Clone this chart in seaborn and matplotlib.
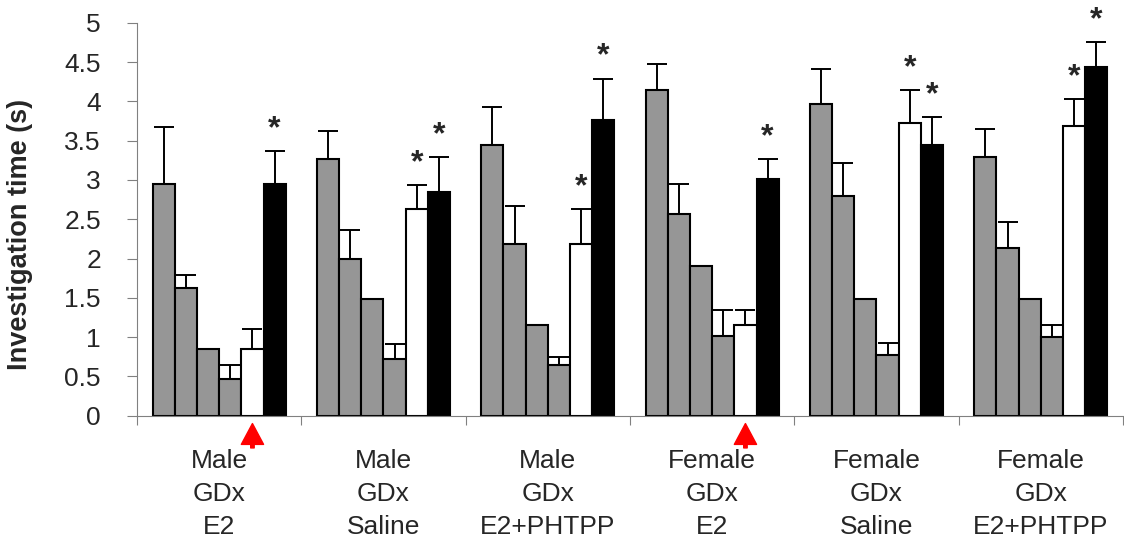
import pandas as pd
import matplotlib.pyplot as plt
import seaborn as sns

sns.set_style("white")
plt.rcParams['font.family'] = ['Liberation Sans', 'DejaVu Sans']

# Group labels and the six bars of each group
groups = ['Male\nGDx\nE2', 'Male\nGDx\nSaline', 'Male\nGDx\nE2+PHTPP',
          'Female\nGDx\nE2', 'Female\nGDx\nSaline', 'Female\nGDx\nE2+PHTPP']
conditions = ['hab1', 'hab2', 'hab3', 'hab4', 'dishab', 'novel']

# mean values per group (rows) and condition (columns)
means = [
    [2.95, 1.62, 0.85, 0.47, 0.85, 2.95],
    [3.26, 2.00, 1.49, 0.72, 2.63, 2.84],
    [3.44, 2.18, 1.16, 0.64, 2.18, 3.76],
    [4.14, 2.57, 1.90, 1.02, 1.16, 3.01],
    [3.96, 2.80, 1.49, 0.77, 3.73, 3.44],
    [3.29, 2.13, 1.49, 1.00, 3.69, 4.44],
]
# top of the error bars (mean + sem)
err_top = [
    [3.67, 1.79, 0.85, 0.64, 1.10, 3.37],
    [3.62, 2.36, 1.49, 0.91, 2.93, 3.29],
    [3.93, 2.67, 1.16, 0.75, 2.63, 4.29],
    [4.48, 2.95, 1.90, 1.34, 1.34, 3.26],
    [4.41, 3.21, 1.49, 0.93, 4.14, 3.80],
    [3.65, 2.47, 1.49, 1.16, 4.03, 4.75],
]
# significance stars (group index, condition index)
stars = [(0, 5), (1, 4), (1, 5), (2, 4), (2, 5), (3, 5), (4, 4), (4, 5), (5, 4), (5, 5)]
# red arrows under these groups (at the white bar)
arrow_groups = [0, 3]

rows = []
for gi, g in enumerate(groups):
    for ci, c in enumerate(conditions):
        rows.append({'group': g, 'condition': c, 'time': means[gi][ci]})
df = pd.DataFrame(rows)

palette = ['#969696'] * 4 + ['white', 'black']

fig = plt.figure(figsize=(11.24, 5.39), dpi=100)
ax = fig.add_axes([137 / 1124, 123.3 / 539, 986 / 1124, 393 / 539])

sns.barplot(data=df, x='group', y='time', hue='condition', order=groups,
            hue_order=conditions, palette=palette, saturation=1,
            edgecolor='black', linewidth=1.5, width=0.81, errorbar=None,
            legend=False, ax=ax)
bar_sets = list(ax.containers)

# upper-only error bars, using the bar positions seaborn produced
for ci, cont in enumerate(bar_sets):
    for gi, bar in enumerate(cont.patches):
        x = bar.get_x() + bar.get_width() / 2
        m = means[gi][ci]
        up = err_top[gi][ci] - m
        if up > 0.001:
            ax.errorbar(x, m, yerr=[[0], [up]], fmt='none', ecolor='black',
                        elinewidth=1.4, capsize=7, capthick=1.4, zorder=1)

for gi, ci in stars:
    bar = bar_sets[ci].patches[gi]
    x = bar.get_x() + bar.get_width() / 2
    ax.annotate('*', xy=(x, err_top[gi][ci]), xytext=(0, 10),
                textcoords='offset points', ha='center', va='baseline',
                fontsize=23, fontweight='bold')

for gi in arrow_groups:
    bar = bar_sets[4].patches[gi]
    x = bar.get_x() + bar.get_width() / 2
    ax.annotate('', xy=(x, -0.1), xytext=(x, -0.41), annotation_clip=False,
                arrowprops=dict(facecolor='red', edgecolor='red', width=2.5,
                                headwidth=16, headlength=15))

ax.set_xlim(-0.5, 5.5)
ax.set_ylim(0, 5)
ax.set_yticks([0, 0.5, 1, 1.5, 2, 2.5, 3, 3.5, 4, 4.5, 5])
ax.set_yticklabels(['0', '0.5', '1', '1.5', '2', '2.5', '3', '3.5', '4', '4.5', '5'])
ax.set_xticks(range(6))
ax.set_xticklabels(groups, linespacing=1.47)
ax.set_xticks([i - 0.5 for i in range(7)], minor=True)
ax.tick_params(axis='x', which='major', length=0, pad=24, labelsize=19)
ax.tick_params(axis='x', which='minor', length=6.5, width=0.8, color='#808080',
               direction='out', bottom=True)
ax.tick_params(axis='y', length=7, width=0.8, color='#808080', direction='out',
               pad=19, labelsize=19, left=True)

for side in ['top', 'right']:
    ax.spines[side].set_visible(False)
for side in ['left', 'bottom']:
    ax.spines[side].set_color('#808080')
    ax.spines[side].set_linewidth(0.8)

ax.set_xlabel('')
ax.set_ylabel('Investigation time (s)', fontsize=19.5, fontweight='bold')
ax.yaxis.set_label_coords(-0.105, 0.462)

plt.savefig('out.png', dpi=100)
